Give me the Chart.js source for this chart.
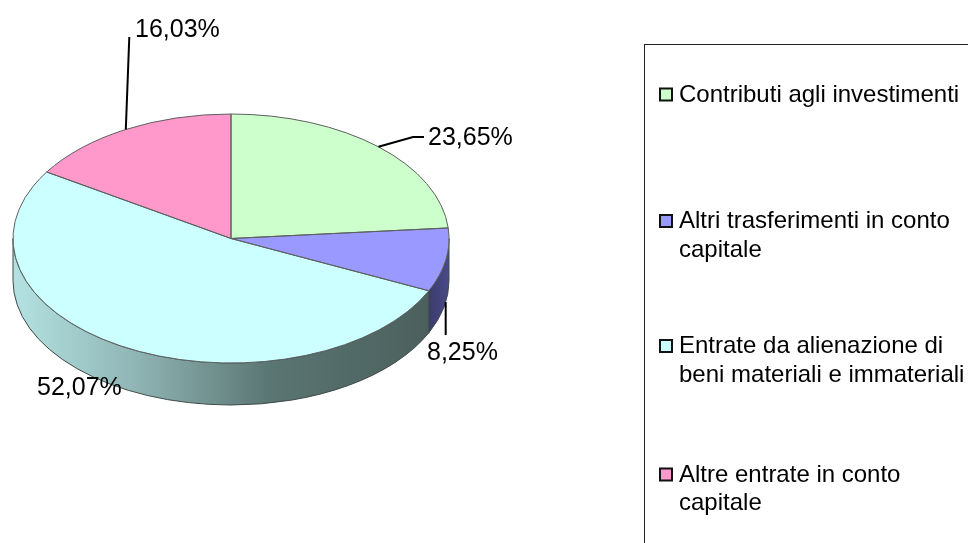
<!DOCTYPE html>
<html>
<head>
<meta charset="utf-8">
<script src="https://cdn.jsdelivr.net/npm/chart.js@4/dist/chart.umd.min.js"></script>
<style>
html,body{margin:0;padding:0;background:#ffffff;}
#wrap{position:relative;width:968px;height:543px;overflow:hidden;}
canvas{display:block;}
</style>
</head>
<body>
<div id="wrap"><canvas id="c" width="968" height="543"></canvas></div>
<script>
// ---- data ----
const categories = [
  "Contributi agli investimenti",
  "Altri trasferimenti in conto capitale",
  "Entrate da alienazione di beni materiali e immateriali",
  "Altre entrate in conto capitale"
];
const legendLines = [
  ["Contributi agli investimenti"],
  ["Altri trasferimenti in conto", "capitale"],
  ["Entrate da alienazione di", "beni materiali e immateriali"],
  ["Altre entrate in conto", "capitale"]
];
const shares = [23.65, 8.25, 52.07, 16.03];
const percentLabels = ["23,65%", "8,25%", "52,07%", "16,03%"];

// ---- styles / layout ----
const topColors = ["#CCFFCC", "#9999FF", "#CCFFFF", "#FF99CC"];
const TILT = 124.5 / 218;   // vertical squash of the pie
const DEPTH = 42;           // thickness of the 3D side
const FONT = '"Liberation Sans", Arial, sans-serif';
// label text anchor (left, baseline) and leader waypoints
const labelLayout = [
  { tx: 428, ty: 145, leader: [[413, 137], [424, 137]], fromBottom: false },
  { tx: 427, ty: 360, leader: [[445.7, 335]], fromBottom: true },
  { tx: 37,  ty: 395, leader: null, fromBottom: false },
  { tx: 135, ty: 37,  leader: [[129.3, 37]], fromBottom: false }
];
const legendBox = { x: 644.5, y: 44.5 };
const legendBaselines = [101.5, 228, 353, 481.5];
const legendLineGap = 28.5;

function wallFill(ctx, i, x, R) {
  if (i === 2) {
    const g = ctx.createLinearGradient(x - R, 0, x + R * 0.91, 0);
    g.addColorStop(0, "#B4E2E2");
    g.addColorStop(0.3, "#8FB4B4");
    g.addColorStop(0.62, "#5A7572");
    g.addColorStop(1, "#4B605D");
    return g;
  }
  if (i === 1) {
    const g = ctx.createLinearGradient(x + R * 0.9, 0, x + R, 0);
    g.addColorStop(0, "#3A3A6C");
    g.addColorStop(1, "#4A4A88");
    return g;
  }
  if (i === 0) return "#8FB38F";
  return "#B36B8F";
}

const pie3d = {
  id: "pie3d",
  beforeDatasetsDraw(chart) {
    const ctx = chart.ctx;
    const arcs = chart.getDatasetMeta(0).data;
    const x = arcs[0].x, y = arcs[0].y, R = arcs[0].outerRadius, r = R * TILT;
    // side walls (front half only: angles 0..PI)
    arcs.forEach((a, i) => {
      const s = Math.max(a.startAngle, 0), e = Math.min(a.endAngle, Math.PI);
      if (e <= s) return;
      ctx.save();
      ctx.beginPath();
      ctx.ellipse(x, y, R, r, 0, s, e, false);
      ctx.lineTo(x + R * Math.cos(e), y + r * Math.sin(e) + DEPTH);
      ctx.ellipse(x, y + DEPTH, R, r, 0, e, s, true);
      ctx.closePath();
      ctx.fillStyle = wallFill(ctx, i, x, R);
      ctx.fill();
      ctx.lineWidth = 1;
      ctx.strokeStyle = "#3f4a4a";
      ctx.stroke();
      ctx.restore();
    });
    ctx.save();
    ctx.translate(0, y);
    ctx.scale(1, TILT);
    ctx.translate(0, -y);
  },
  afterDatasetsDraw(chart) {
    const ctx = chart.ctx;
    ctx.restore();
    const arcs = chart.getDatasetMeta(0).data;
    const x = arcs[0].x, y = arcs[0].y, R = arcs[0].outerRadius, r = R * TILT;
    // slice outlines
    ctx.save();
    ctx.lineWidth = 1;
    ctx.strokeStyle = "#5c6060";
    arcs.forEach(a => {
      ctx.beginPath();
      ctx.moveTo(x, y);
      ctx.ellipse(x, y, R, r, 0, a.startAngle, a.endAngle, false);
      ctx.closePath();
      ctx.stroke();
    });
    ctx.restore();

    // percentage labels with leader lines
    ctx.save();
    ctx.font = "25px " + FONT;
    ctx.fillStyle = "#000";
    ctx.textBaseline = "alphabetic";
    ctx.textAlign = "left";
    arcs.forEach((a, i) => {
      const L = labelLayout[i];
      const m = (a.startAngle + a.endAngle) / 2;
      if (L.leader) {
        const ax = x + R * Math.cos(m);
        const ay = y + r * Math.sin(m) + (L.fromBottom ? DEPTH : 0);
        ctx.beginPath();
        ctx.moveTo(ax, ay);
        L.leader.forEach(p => ctx.lineTo(p[0], p[1]));
        ctx.lineWidth = 2;
        ctx.strokeStyle = "#000";
        ctx.stroke();
      }
      ctx.fillText(percentLabels[i], L.tx, L.ty);
    });
    ctx.restore();

    // legend
    ctx.save();
    ctx.lineWidth = 1;
    ctx.strokeStyle = "#222";
    ctx.strokeRect(legendBox.x, legendBox.y, 500, 600);
    ctx.font = "24px " + FONT;
    ctx.fillStyle = "#000";
    legendLines.forEach((lines, i) => {
      const b = legendBaselines[i];
      ctx.fillStyle = topColors[i];
      ctx.fillRect(660, b - 13, 12, 12);
      ctx.lineWidth = 2;
      ctx.strokeStyle = "#111";
      ctx.strokeRect(660, b - 13, 12, 12);
      ctx.fillStyle = "#000";
      lines.forEach((t, k) => ctx.fillText(t, 679, b + k * legendLineGap));
    });
    ctx.restore();
  }
};

new Chart(document.getElementById("c"), {
  type: "pie",
  data: {
    labels: categories,
    datasets: [{
      data: shares,
      backgroundColor: topColors,
      borderWidth: 0
    }]
  },
  options: {
    responsive: false,
    animation: false,
    layout: { padding: { left: 13, right: 519, top: 20.5, bottom: 86.5 } },
    plugins: {
      legend: { display: false },
      tooltip: { enabled: false }
    }
  },
  plugins: [pie3d]
});
</script>
</body>
</html>
